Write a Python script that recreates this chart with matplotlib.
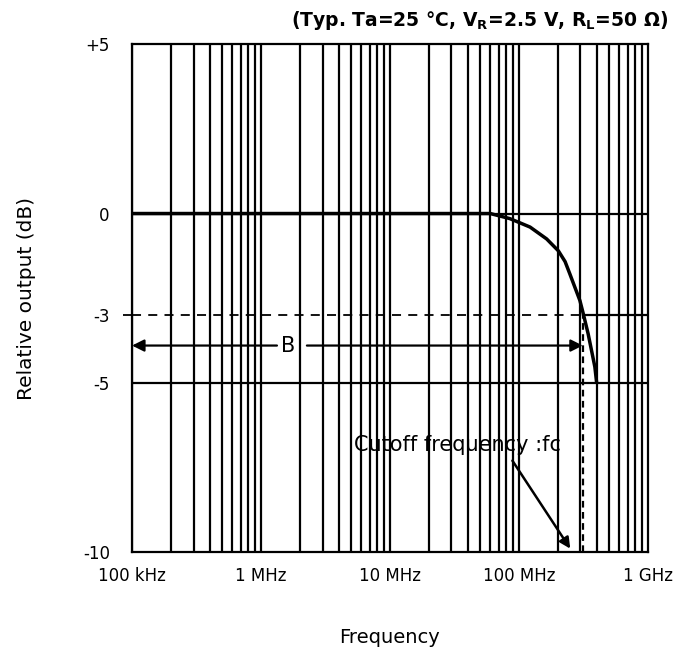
import matplotlib.pyplot as plt
import numpy as np

# response curve
freq_hz = [1e5, 1e6, 1e7, 45e6, 60e6, 85e6, 122e6, 164e6, 202e6, 228e6, 248e6, 297e6, 315e6, 344e6, 388e6, 400e6]
rel_db = [0, 0, 0, 0, 0, -0.15, -0.4, -0.75, -1.1, -1.42, -1.78, -2.57, -2.95, -3.55, -4.53, -4.98]

fc_hz = 313e6
b_level = -3.9
decades = [1e5, 1e6, 1e7, 1e8, 1e9]
decade_labels = ['100 kHz', '1 MHz', '10 MHz', '100 MHz', '1 GHz']
y_ticks = [5, 0, -3, -5, -10]
y_labels = ['+5', '0', '-3', '-5', '-10']

plt.rcParams['font.family'] = ['DejaVu Sans']
fig = plt.figure(figsize=(6.77, 6.51), dpi=100)
ax = fig.add_axes([0.195, 0.152, 0.762, 0.780])
ax.set_xscale('log')
ax.set_xlim(1e5, 1e9)
ax.set_ylim(-10, 5)

# vertical grid: every 1..9 multiple of each decade
for d in decades[:-1]:
    for m in range(1, 10):
        ax.axvline(d * m, color='black', lw=1.6, zorder=1)
for yv in [0, -5]:
    ax.axhline(yv, color='black', lw=1.6, zorder=1)

# -3 dB line: dashed up to fc, solid after
ax.plot([1e5, fc_hz], [-3, -3], color='black', lw=1.3, ls=(0, (5, 4)), zorder=2)
ax.plot([1e5 * 0.85, 1e5], [-3, -3], color='black', lw=1.3, ls=(0, (5, 4)), clip_on=False)
ax.plot([fc_hz, 1e9], [-3, -3], color='black', lw=1.6, zorder=2)
ax.plot([fc_hz, fc_hz], [-10, -3], color='black', lw=1.6, ls=(0, (3, 2)), zorder=2)

ax.plot(freq_hz, rel_db, color='black', lw=2.5, zorder=3, solid_capstyle='butt')

# bandwidth arrow B
ax.annotate('', xy=(1e5, b_level), xytext=(1.33e6, b_level),
            arrowprops=dict(arrowstyle='-|>', color='black', lw=1.6, mutation_scale=18,
                            shrinkA=0, shrinkB=0), zorder=4)
ax.annotate('', xy=(fc_hz, b_level), xytext=(2.27e6, b_level),
            arrowprops=dict(arrowstyle='-|>', color='black', lw=1.6, mutation_scale=18,
                            shrinkA=0, shrinkB=0), zorder=4)
ax.text(1.62e6, b_level, 'B', ha='center', va='center', fontsize=15, zorder=4)

ax.text(5.3e6, -6.85, 'Cutoff frequency :fc', ha='left', va='center', fontsize=15, zorder=4)
ax.annotate('', xy=(2.5e8, -9.9), xytext=(8.9e7, -7.3),
            arrowprops=dict(arrowstyle='-|>', color='black', lw=1.8, mutation_scale=16,
                            shrinkA=0, shrinkB=0), zorder=4)

ax.set_xticks(decades)
ax.set_xticklabels(decade_labels)
ax.set_xticks([], minor=True)
ax.set_yticks(y_ticks)
ax.set_yticklabels(y_labels)
ax.tick_params(length=0, labelsize=12)
ax.tick_params(axis='x', pad=11)
ax.tick_params(axis='y', pad=16)
for s in ax.spines.values():
    s.set_linewidth(1.6)

ax.set_ylabel('Relative output (dB)', fontsize=14.5, labelpad=34)
ax.set_xlabel('Frequency', fontsize=14, labelpad=31)
fig.text(0.987, 0.968, r'(Typ. Ta=25 °C, V$_\mathregular{R}$=2.5 V, R$_\mathregular{L}$=50 Ω)',
         ha='right', va='center', fontsize=13.5, fontweight='bold')

fig.savefig('out.png', dpi=100)
